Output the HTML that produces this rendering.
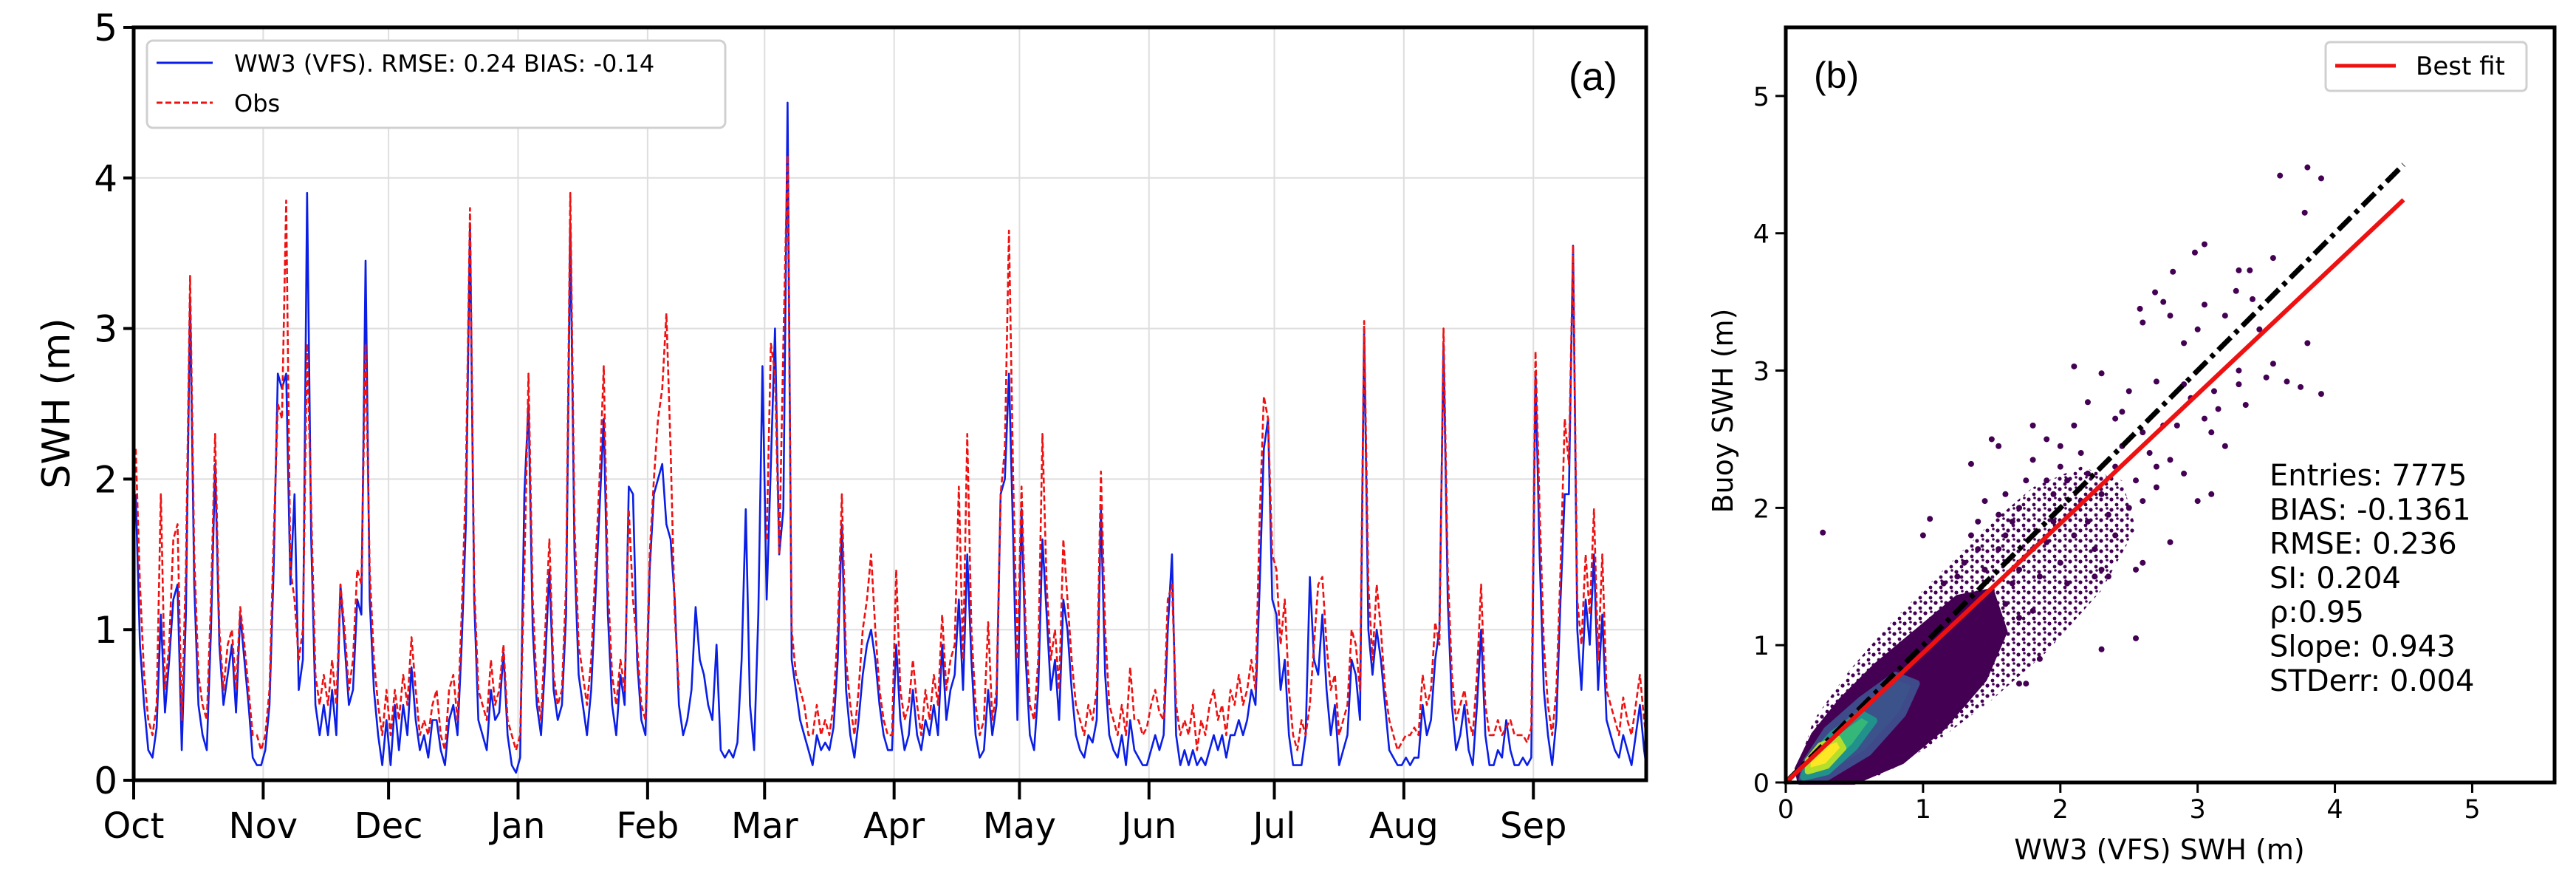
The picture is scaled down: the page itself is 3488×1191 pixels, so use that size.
<!DOCTYPE html>
<html><head><meta charset="utf-8"><style>
html,body{margin:0;padding:0;background:#fff;}
svg{display:block;}
text{font-family:"DejaVu Sans","Liberation Sans",sans-serif;fill:#000;}
</style></head><body>
<svg id="fig" width="3488" height="1191" viewBox="0 0 3488 1191" xmlns="http://www.w3.org/2000/svg">
<defs>
<pattern id="dots" width="14" height="14" patternUnits="userSpaceOnUse"><circle cx="3" cy="4" r="2.6" fill="#440154"/><circle cx="10" cy="11" r="2.4" fill="#440154"/><circle cx="11" cy="2" r="1.8" fill="#440154"/></pattern>
</defs>
<g id="panelA"></g>
<g id="panelB"></g>
</svg>
<script>
// ---------- Panel (a) data ----------
const monthLabels = ["Oct","Nov","Dec","Jan","Feb","Mar","Apr","May","Jun","Jul","Aug","Sep"];
const monthStartDays = [0,31,61,92,123,151,182,212,243,273,304,335];
const yTicksA = [0,1,2,3,4,5];
const obsSWH = [
2.2,1.3,0.7,0.4,0.3,0.5,1.9,0.6,0.9,1.6,1.7,0.4,1.4,3.35,1.5,0.7,0.5,0.4,1.2,2.3,1.0,0.6,0.9,1.0,0.6,1.15,0.9,0.6,0.3,0.3,0.2,
0.3,0.6,1.6,2.5,2.4,3.85,1.4,1.2,0.8,1.0,2.9,1.8,0.7,0.5,0.7,0.5,0.8,0.5,1.3,1.0,0.6,0.8,1.4,1.3,2.9,1.4,0.8,0.5,0.3,0.6,
0.3,0.6,0.4,0.7,0.5,0.95,0.6,0.3,0.4,0.3,0.5,0.6,0.3,0.2,0.6,0.7,0.4,1.1,2.0,3.8,1.3,0.6,0.5,0.4,0.8,0.5,0.6,0.9,0.4,0.3,0.2,
0.3,1.4,2.7,1.2,0.6,0.4,1.0,1.6,0.7,0.5,0.6,1.3,3.9,1.7,0.9,0.7,0.5,0.8,1.4,2.0,2.75,1.3,0.7,0.5,0.8,0.6,1.8,1.2,0.9,0.5,0.4,
1.5,2.0,2.4,2.6,3.1,2.2,1.1,0.6,null,null,null,null,null,null,null,null,null,null,null,null,null,null,null,null,null,null,null,null,
1.6,2.9,2.7,1.5,2.9,4.15,1.0,0.7,0.6,0.5,0.3,0.3,0.5,0.3,0.4,0.3,0.5,1.0,1.9,0.8,0.5,0.3,0.6,1.0,1.2,1.5,1.0,0.6,0.4,0.3,0.3,
1.4,0.6,0.4,0.5,0.8,0.5,0.3,0.6,0.4,0.7,0.5,1.1,0.6,0.8,0.9,1.95,0.8,2.3,1.0,0.5,0.3,0.4,1.05,0.4,0.6,1.9,2.2,3.65,2.0,0.8,
1.95,1.0,0.5,0.4,0.8,2.3,1.3,0.8,1.0,0.6,1.6,1.2,0.8,0.5,0.4,0.3,0.5,0.4,0.6,2.05,1.0,0.5,0.4,0.3,0.5,0.3,0.75,0.4,0.4,0.3,0.35,
0.5,0.6,0.45,0.4,1.2,1.3,0.5,0.3,0.4,0.3,0.5,0.2,0.4,0.3,0.5,0.6,0.4,0.5,0.3,0.6,0.5,0.7,0.5,0.6,0.8,0.6,1.75,2.55,2.4,1.5,
1.4,0.9,1.2,0.6,0.3,0.2,0.4,0.3,0.5,0.9,1.3,1.35,0.9,0.6,0.7,0.3,0.4,0.5,1.0,0.9,0.6,3.05,1.3,0.8,1.3,1.0,0.6,0.4,0.3,0.2,0.25,
0.3,0.3,0.35,0.3,0.7,0.5,0.6,1.05,0.9,3.0,1.4,0.7,0.4,0.5,0.6,0.4,0.3,0.7,1.3,0.5,0.3,0.3,0.4,0.3,0.35,0.4,0.3,0.3,0.3,0.25,0.35,
2.85,1.8,0.9,0.5,0.3,0.6,1.4,2.4,2.1,3.55,1.2,0.9,1.5,1.1,1.8,0.8,1.5,0.6,0.5,0.4,0.3,0.55,0.4,0.3,0.5,0.7,0.4,0.3,0.3,0.2
];
const modelSWH = [
1.9,0.9,0.5,0.2,0.15,0.35,1.1,0.45,0.8,1.2,1.3,0.2,1.1,3.2,1.3,0.5,0.3,0.2,1.0,2.1,0.9,0.5,0.7,0.9,0.45,1.1,0.8,0.5,0.15,0.1,0.1,
0.2,0.5,1.4,2.7,2.6,2.7,1.3,1.9,0.6,0.8,3.9,1.6,0.5,0.3,0.5,0.3,0.6,0.3,1.3,0.9,0.5,0.6,1.2,1.1,3.45,1.2,0.6,0.3,0.1,0.4,
0.1,0.5,0.2,0.5,0.3,0.75,0.4,0.2,0.3,0.15,0.4,0.4,0.2,0.1,0.4,0.5,0.3,0.9,1.7,3.7,1.2,0.4,0.3,0.2,0.6,0.4,0.45,0.85,0.3,0.1,0.05,
0.15,1.9,2.5,1.0,0.5,0.3,0.8,1.4,0.6,0.4,0.5,1.1,3.7,1.5,0.7,0.5,0.3,0.6,1.2,1.8,2.4,1.1,0.5,0.3,0.7,0.5,1.95,1.9,0.8,0.4,0.3,
1.4,1.9,2.0,2.1,1.7,1.6,1.2,0.5,0.3,0.4,0.6,1.15,0.8,0.7,0.5,0.4,0.9,0.2,0.15,0.2,0.15,0.25,0.8,1.8,0.5,0.2,1.1,2.75,
1.2,2.1,3.0,1.5,1.8,4.5,0.8,0.6,0.4,0.3,0.2,0.1,0.3,0.2,0.25,0.2,0.35,0.8,1.7,0.6,0.3,0.15,0.4,0.7,0.9,1.0,0.8,0.5,0.3,0.2,0.2,
0.9,0.4,0.2,0.3,0.6,0.3,0.2,0.4,0.3,0.5,0.3,0.9,0.4,0.6,0.7,1.2,0.6,1.5,0.8,0.3,0.15,0.2,0.6,0.3,0.5,1.9,2.0,2.7,1.6,0.4,
1.8,0.8,0.3,0.2,0.6,1.6,1.1,0.6,0.8,0.4,1.2,1.0,0.6,0.3,0.2,0.15,0.3,0.25,0.4,1.8,0.7,0.3,0.2,0.15,0.3,0.1,0.4,0.2,0.15,0.1,0.1,
0.2,0.3,0.2,0.3,1.0,1.5,0.3,0.1,0.2,0.1,0.2,0.1,0.15,0.1,0.2,0.3,0.2,0.3,0.15,0.3,0.3,0.4,0.3,0.4,0.6,0.5,1.3,2.2,2.4,1.2,
1.1,0.6,0.8,0.3,0.1,0.1,0.1,0.3,1.35,0.8,0.7,1.1,0.6,0.3,0.5,0.1,0.2,0.3,0.8,0.7,0.4,3.0,1.0,0.7,1.0,0.8,0.5,0.2,0.15,0.1,0.1,
0.15,0.1,0.15,0.15,0.5,0.3,0.4,0.8,1.0,2.9,1.2,0.5,0.2,0.3,0.5,0.2,0.1,0.5,1.0,0.3,0.1,0.1,0.2,0.15,0.4,0.2,0.1,0.1,0.15,0.1,0.15,
2.7,1.5,0.6,0.3,0.1,0.4,1.2,1.9,1.9,3.55,1.0,0.6,1.2,0.9,1.5,0.6,1.1,0.4,0.3,0.2,0.15,0.3,0.2,0.1,0.3,0.5,0.2,0.1,0.1,0.05
];

// ---------- Panel (b) data ----------
const scatterTicks = [0,1,2,3,4,5];
const scatterX = [3.8,3.6,3.9,3.78,3.05,2.98,3.3,3.38,2.82,2.69,3.55,3.28,3.4,3.05,2.58,2.6,2.75,2.8,3.0,2.9,3.2,3.45,3.8,3.55,3.3,3.3,3.5,3.65,3.75,3.9,3.12,3.15,3.35,2.1,2.3,2.2,2.7,2.5,2.45,2.95,2.85,3.1,3.2,3.1,3.0,2.8,2.6,2.55,2.35,2.25,2.55,2.3,1.85,1.3,1.7,1.75,0.27,1.0,1.05,1.4,1.5,1.55,1.35,1.45,1.8,1.8,1.9,2.0,2.1,2.4,2.6,2.65,2.7,2.8,2.9,2.55,2.4,2.2,2.05,1.95,2.3,2.5,2.6,2.7,2.2,2.1,1.9,1.8,2.0,2.25,2.4,2.3,2.05,1.85,1.7,1.6,1.7,1.6,1.75,2.0,2.15,1.9,1.3,1.4,1.5,1.6,1.7,1.65,1.8,1.5,1.4,1.2,1.1,1.25,1.15,1.45,1.55,1.65,1.35,2.45,2.15,2.35,1.95,2.75,2.9,3.05,1.55,1.25];
const scatterY = [4.48,4.42,4.4,4.15,3.92,3.86,3.73,3.73,3.72,3.57,3.82,3.58,3.52,3.48,3.45,3.35,3.5,3.4,3.3,3.2,3.4,3.3,3.2,3.05,3.0,2.9,2.95,2.92,2.88,2.83,2.85,2.72,2.75,3.03,2.98,2.77,2.92,2.85,2.7,2.8,2.6,2.55,2.45,2.1,2.05,1.75,1.6,1.55,1.5,1.5,1.05,0.97,0.9,0.98,0.72,0.72,1.82,1.8,1.92,1.9,2.5,2.45,2.32,2.05,2.6,2.35,2.5,2.45,2.6,2.65,2.55,2.4,2.3,2.35,2.25,2.2,2.3,2.25,2.2,2.1,2.1,2.0,2.05,2.15,1.9,1.8,1.75,1.7,1.6,1.7,1.8,1.55,1.45,1.5,1.55,1.8,2.0,2.1,2.2,2.3,2.4,2.2,1.6,1.7,1.4,1.3,1.2,1.45,1.25,1.1,0.95,0.8,0.65,1.3,1.45,1.55,1.7,1.9,1.8,2.45,2.05,1.95,1.9,2.6,2.9,2.65,1.95,1.5];
const sparseBandX = [0.3,0.7,1.1,1.5,1.9,2.3,2.55,2.45,2.15,1.8,1.45,1.1,0.75,0.45,0.2,0.1];
const sparseBandY = [0.0,0.05,0.3,0.6,0.95,1.4,1.85,2.2,2.3,2.15,1.85,1.5,1.15,0.8,0.45,0.15];
const cloudOuterX = [0.1,0.5,0.85,1.15,1.45,1.6,1.5,1.25,0.95,0.65,0.4,0.2,0.08];
const cloudOuterY = [0.0,0.0,0.15,0.4,0.75,1.1,1.4,1.35,1.1,0.85,0.6,0.35,0.1];
const core1X = [0.12,0.3,0.6,0.85,0.95,0.8,0.55,0.3,0.15];
const core1Y = [0.02,0.04,0.22,0.5,0.72,0.78,0.6,0.38,0.15];
const core2X = [0.13,0.3,0.5,0.64,0.55,0.34,0.18];
const core2Y = [0.04,0.08,0.26,0.45,0.5,0.35,0.17];
const core3X = [0.16,0.3,0.42,0.38,0.25,0.16];
const core3Y = [0.08,0.12,0.25,0.32,0.27,0.16];
const fitSlope = [0.943];
const lineEnd = [4.5];
const statsLines = ["Entries: 7775","BIAS: -0.1361","RMSE: 0.236","SI: 0.204","\u03C1:0.95","Slope: 0.943","STDerr: 0.004"];

const NS = "http://www.w3.org/2000/svg";
function mk(parent, tag, attrs, txt){
  const e = document.createElementNS(NS, tag);
  for (const k in attrs) e.setAttribute(k, attrs[k]);
  if (txt !== undefined) e.textContent = txt;
  parent.appendChild(e);
  return e;
}
// ---------- Panel A ----------
const A = document.getElementById('panelA');
const aL=181, aR=2229, aT=37, aB=1056;
const daySpan = 362;
const xA = d => aL + d/daySpan*(aR-aL);
const yA = v => aB - v/5*(aB-aT);
monthStartDays.forEach((d,i)=>{
  const g = mk(A,'line',{x1:xA(d),x2:xA(d),y1:aT,y2:aB,stroke:'#dedede','stroke-width':2});
  
  
});
yTicksA.forEach(v=>{
  const g = mk(A,'line',{x1:aL,x2:aR,y1:yA(v),y2:yA(v),stroke:'#dedede','stroke-width':2});
  
  
});
function seriesPath(arr){
  let d='', pen=false;
  arr.forEach((v,i)=>{
    if (v===null){pen=false;return;}
    const x = Math.min(xA(i+0.5), aR);
    d += (pen?'L':'M') + x.toFixed(1) + ' ' + yA(v).toFixed(1) + ' ';
    pen=true;
  });
  return d;
}
const pm = mk(A,'path',{d:seriesPath(modelSWH),fill:'none',stroke:'#0a1ee6','stroke-width':2.6,'stroke-linejoin':'round'});


const po = mk(A,'path',{d:seriesPath(obsSWH),fill:'none',stroke:'#ee1111','stroke-width':2.6,'stroke-dasharray':'8,4','stroke-linejoin':'round'});


const fa = mk(A,'rect',{x:aL,y:aT,width:aR-aL,height:aB-aT,fill:'none',stroke:'#000','stroke-width':5});


yTicksA.forEach(v=>{
  const t = mk(A,'line',{x1:aL-14,x2:aL,y1:yA(v),y2:yA(v),stroke:'#000','stroke-width':4});
  
  
  const l = mk(A,'text',{x:aL-22,y:yA(v)+18,'text-anchor':'end','font-size':50},String(v));
  
  
});
monthStartDays.forEach((d,i)=>{
  const t = mk(A,'line',{x1:xA(d),x2:xA(d),y1:aB,y2:aB+26,stroke:'#000','stroke-width':4});
  
  
  const l = mk(A,'text',{x:xA(d),y:aB+78,'text-anchor':'middle','font-size':48},monthLabels[i]);
  
  
});
const yl = mk(A,'text',{x:0,y:0,transform:'translate(94,546) rotate(-90)','text-anchor':'middle','font-size':52},'SWH (m)');


const la = mk(A,'text',{x:2190,y:122,'text-anchor':'end','font-size':54,style:'font-family:"Liberation Sans",sans-serif'},'(a)');


const lg = mk(A,'g',{});


mk(lg,'rect',{x:199,y:55,width:783,height:118,rx:8,fill:'#fff',stroke:'#d0d0d0','stroke-width':3});
const le1 = mk(lg,'line',{x1:212,x2:288,y1:85,y2:85,stroke:'#0a1ee6','stroke-width':3});


const lt1 = mk(lg,'text',{x:317,y:97,'font-size':32},'WW3 (VFS). RMSE: 0.24 BIAS: -0.14');


const le2 = mk(lg,'line',{x1:212,x2:288,y1:139,y2:139,stroke:'#ee1111','stroke-width':3,'stroke-dasharray':'8,4'});


const lt2 = mk(lg,'text',{x:317,y:151,'font-size':32},'Obs');



// ---------- Panel B ----------
const B = document.getElementById('panelB');
const bL=2418, bR=3459, bT=37, bB=1059;
const xB = v => bL + v/5.6*(bR-bL);
const yB = v => bB - v/5.5*(bB-bT);
function poly(xs,ys){ return xs.map((x,i)=>xB(x).toFixed(1)+','+yB(ys[i]).toFixed(1)).join(' '); }
const cs = mk(B,'polygon',{points:poly(sparseBandX,sparseBandY),fill:'url(#dots)','stroke':'none'});


const c0 = mk(B,'polygon',{points:poly(cloudOuterX,cloudOuterY),fill:'#440154','stroke':'#440154','stroke-width':6,'stroke-linejoin':'round'});


const c1 = mk(B,'polygon',{points:poly(core1X,core1Y),fill:'#3b528b',stroke:'#3e4a89','stroke-width':10,'stroke-linejoin':'round'});


const c2 = mk(B,'polygon',{points:poly(core2X,core2Y),fill:'#35b779',stroke:'#21918c','stroke-width':10,'stroke-linejoin':'round'});


const c3 = mk(B,'polygon',{points:poly(core3X,core3Y),fill:'#fde725',stroke:'#b5de2b','stroke-width':8,'stroke-linejoin':'round'});


scatterX.forEach((x,i)=>{
  const p = mk(B,'circle',{cx:xB(x),cy:yB(scatterY[i]),r:4,fill:'#440154'});
  
  
});
const oneToOne = mk(B,'line',{x1:xB(0),y1:yB(0),x2:xB(lineEnd[0]),y2:yB(lineEnd[0]),stroke:'#000','stroke-width':7,'stroke-dasharray':'24,8,6,8'});


const fit = mk(B,'line',{x1:xB(0),y1:yB(0),x2:xB(lineEnd[0]),y2:yB(lineEnd[0]*fitSlope[0]),stroke:'#ee1111','stroke-width':6});


const fb = mk(B,'rect',{x:bL,y:bT,width:bR-bL,height:bB-bT,fill:'none',stroke:'#000','stroke-width':5});


scatterTicks.forEach(v=>{
  const t1 = mk(B,'line',{x1:xB(v),x2:xB(v),y1:bB,y2:bB+14,stroke:'#000','stroke-width':3});
  
  
  const l1 = mk(B,'text',{x:xB(v),y:bB+48,'text-anchor':'middle','font-size':35},String(v));
  
  
  const t2 = mk(B,'line',{x1:bL-14,x2:bL,y1:yB(v),y2:yB(v),stroke:'#000','stroke-width':3});
  
  
  const l2 = mk(B,'text',{x:bL-22,y:yB(v)+13,'text-anchor':'end','font-size':35},String(v));
  
  
});
const xlb = mk(B,'text',{x:2924,y:1163,'text-anchor':'middle','font-size':38},'WW3 (VFS) SWH (m)');


const ylb = mk(B,'text',{x:0,y:0,transform:'translate(2346,556) rotate(-90)','text-anchor':'middle','font-size':38},'Buoy SWH (m)');


const lb = mk(B,'text',{x:2456,y:119,'font-size':50,style:'font-family:"Liberation Sans",sans-serif'},'(b)');


const lgb = mk(B,'g',{});


mk(lgb,'rect',{x:3149,y:57,width:272,height:66,rx:6,fill:'#fff',stroke:'#d0d0d0','stroke-width':3});
const lbs = mk(lgb,'line',{x1:3162,x2:3244,y1:89,y2:89,stroke:'#ee1111','stroke-width':5});


const lbt = mk(lgb,'text',{x:3271,y:101,'font-size':34},'Best fit');


statsLines.forEach((s,i)=>{
  const t = mk(B,'text',{x:3073,y:657+i*46.3,'font-size':40},s);
  
  
});
</script>
</body></html>
